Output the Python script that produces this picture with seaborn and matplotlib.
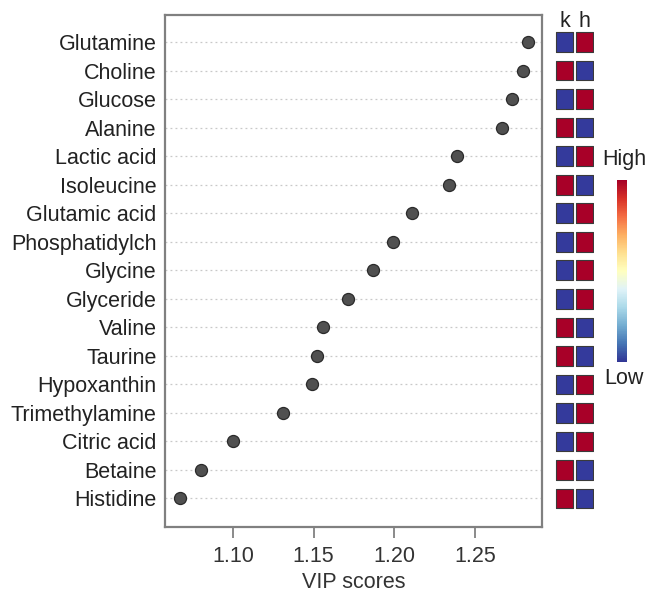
import matplotlib
matplotlib.use("Agg")
import matplotlib.pyplot as plt
import matplotlib as mpl
import seaborn as sns
import pandas as pd
import numpy as np

metabolites = ["Glutamine", "Choline", "Glucose", "Alanine", "Lactic acid", "Isoleucine",
               "Glutamic acid", "Phosphatidylch", "Glycine", "Glyceride", "Valine", "Taurine",
               "Hypoxanthin", "Trimethylamine", "Citric acid", "Betaine", "Histidine"]
vip_scores = [1.283, 1.280, 1.273, 1.267, 1.239, 1.234, 1.211, 1.199, 1.187, 1.171,
              1.156, 1.152, 1.149, 1.131, 1.100, 1.080, 1.067]
# 1 = high (red), 0 = low (blue)
group_k = [0, 1, 0, 1, 0, 1, 0, 0, 0, 0, 1, 1, 0, 0, 0, 1, 1]
group_h = [1, 0, 1, 0, 1, 0, 1, 1, 1, 1, 0, 0, 1, 1, 1, 0, 0]
groups = ["k", "h"]
xticks = [1.10, 1.15, 1.20, 1.25]

sns.set_theme(style="white")
plt.rcParams["font.family"] = ["Liberation Sans", "DejaVu Sans"]

W, H = 649, 592
fig = plt.figure(figsize=(W / 100, H / 100), dpi=100)

def rect(l, t, r, b):
    return [l / W, 1 - b / H, (r - l) / W, (b - t) / H]

ax = fig.add_axes(rect(165, 15, 542, 527))
df = pd.DataFrame({"name": metabolites, "vip": vip_scores, "pos": np.arange(len(metabolites))})
for p in df["pos"]:
    ax.axhline(p, color="#c8c8c8", lw=0.9, ls=(0, (1.5, 2.5)), zorder=0)
sns.scatterplot(data=df, x="vip", y="pos", ax=ax, color="#505050", edgecolor="#2a2a2a",
                linewidth=0.9, s=75, zorder=3, legend=False)
ax.set_ylim(17.0, -0.95)
ax.set_xlim(1.0578, 1.2916)
ax.set_yticks(df["pos"])
ax.set_yticklabels(metabolites, fontsize=15.5, color="#222222")
ax.set_xticks(xticks)
ax.set_xticklabels([f"{v:.2f}" for v in xticks], fontsize=15.5, color="#333333")
ax.tick_params(axis="x", length=8, width=1.2, color="#777777", pad=6, direction="out", bottom=True)
ax.tick_params(axis="y", length=0, pad=6)
ax.set_xlabel("VIP scores", fontsize=15.5, color="#333333", labelpad=3)
ax.set_ylabel("")
for s in ax.spines.values():
    s.set_color("#808080")
    s.set_linewidth(1.6)

# heatmap-like squares
cmap = plt.get_cmap("RdYlBu_r")
red = "#a80028"
blue = "#343a9c"
rect_marker = [(-0.87, -1), (0.87, -1), (0.87, 1), (-0.87, 1), (-0.87, -1)]
hax = fig.add_axes(rect(555, 15, 594, 527))
long = pd.DataFrame({
    "col": np.repeat([0, 1], len(metabolites)),
    "pos": np.tile(np.arange(len(metabolites)), 2),
    "val": group_k + group_h,
})
sns.scatterplot(data=long, x="col", y="pos", hue="val", palette={0: blue, 1: red},
                marker=rect_marker, s=200, edgecolor="#3a3a3a", linewidth=0.8, ax=hax, legend=False)
hax.set_ylim(17.0, -0.95)
hax.set_xlim(-0.5, 1.5)
hax.axis("off")
for i, g in enumerate(groups):
    hax.text(i, 1 - 27 / H, g, ha="center", va="baseline", fontsize=15.5, color="#222222",
             transform=mpl.transforms.blended_transform_factory(hax.transData, fig.transFigure))

# colorbar
cax = fig.add_axes(rect(617, 180, 627, 362))
cb = mpl.colorbar.ColorbarBase(cax, cmap=cmap, orientation="vertical")
cb.outline.set_visible(False)
cax.set_xticks([])
cax.set_yticks([])
fig.text(624 / W, 1 - 160 / H, "High", ha="center", va="center", fontsize=15.5, color="#222222")
fig.text(624 / W, 1 - 378 / H, "Low", ha="center", va="center", fontsize=15.5, color="#222222")

fig.savefig("out.png", dpi=100)
